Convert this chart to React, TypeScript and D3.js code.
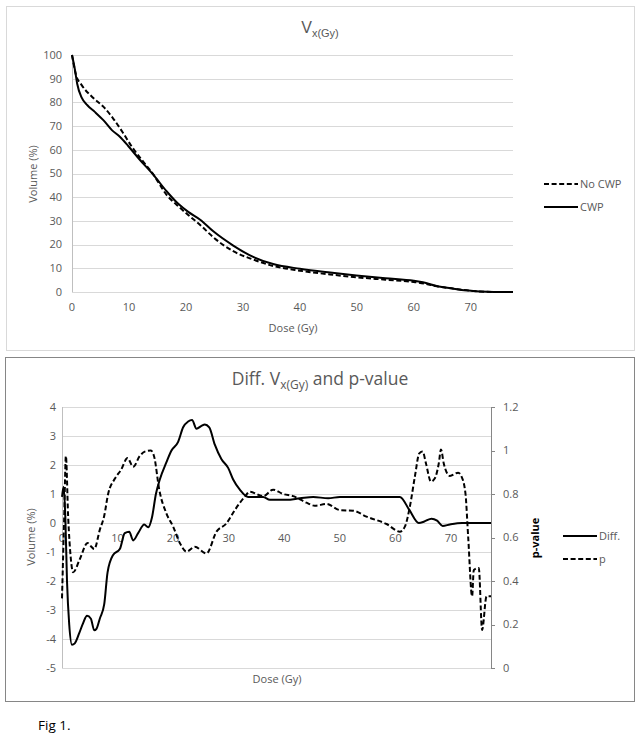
import React from 'react';
import * as d3 from 'd3';

// dose (Gy), volume (%)
const cwp: [number, number][] = [
  [0, 100], [0.5, 94], [0.9, 88], [1.7, 82], [2.7, 78.8], [4, 76], [5.5, 72.5],
  [7, 68.3], [8.4, 65.5], [9.9, 61.5], [11.9, 55.8], [14.3, 49.4], [16.6, 42.5],
  [18.6, 37.3], [20.4, 33.8], [22.5, 30.5], [24.8, 25.6], [28.3, 19.6], [31.8, 14.8],
  [35.3, 11.8], [40, 9.8], [45.3, 8.2], [49.9, 7], [55, 5.8], [60, 4.7], [61.6, 4.1],
  [64, 2.5], [67, 1.4], [69.2, 0.7], [71.6, 0.2], [74, 0], [77.4, 0],
];

const noCwp: [number, number][] = [
  [0, 100], [0.7, 91.6], [1.7, 87.3], [3.5, 82.4], [5.5, 78.2], [7.2, 73.3], [9, 67],
  [10.5, 61.3], [12, 56.5], [14.3, 49.5], [16.6, 41], [18.4, 36.7], [20.4, 32.5],
  [22.5, 28.3], [24.8, 23.1], [28.3, 17.2], [31.8, 13.7], [35.3, 11], [40, 9], [45.3, 7.4],
  [50, 6.2], [55, 5.2], [60, 4.2], [62, 3.5], [64, 2.4], [67, 1.4], [69.2, 0.7],
  [71.6, 0.2], [74, 0], [77.4, 0],
];

// dose (Gy), difference in volume (%)
const diff: [number, number][] = [
  [0, 0.9], [0.3, 1.25], [0.6, 0.2], [0.9, -2], [1.3, -3.5], [1.8, -4.2], [2.3, -4.15],
  [3.1, -3.8], [3.8, -3.45], [4.5, -3.2], [5.2, -3.3], [5.8, -3.7], [6.2, -3.65],
  [6.8, -3.3], [7.6, -2.8], [8.2, -1.7], [9.2, -1.1], [10.4, -0.9], [11.3, -0.35],
  [12.1, -0.3], [12.8, -0.6], [13.7, -0.35], [14.8, -0.05], [15.5, -0.15], [16.2, 0.2],
  [16.9, 1.0], [17.6, 1.5], [18.8, 2.1], [19.7, 2.5], [20.9, 2.8], [21.8, 3.3],
  [22.7, 3.5], [23.4, 3.55], [24.2, 3.25], [25.1, 3.35], [25.7, 3.4], [26.5, 3.3],
  [27.5, 2.7], [28.7, 2.2], [29.9, 1.9], [30.8, 1.5], [32, 1.15], [33.5, 0.9],
  [36.2, 0.9], [37.4, 0.8], [40.4, 0.8], [42.8, 0.85], [45.2, 0.9], [47.9, 0.85],
  [50, 0.9], [55, 0.9], [58, 0.9], [60.8, 0.9], [62.5, 0.45], [64.2, 0], [65.2, 0.05],
  [66.5, 0.15], [67.5, 0.08], [68.5, -0.1], [69.8, -0.05], [72, 0], [77.2, 0],
];

// dose (Gy), p-value
const pValue: [number, number][] = [
  [0, 0.32], [0.4, 0.7], [0.7, 0.975], [1.1, 0.7], [1.6, 0.5], [2.0, 0.44], [3.2, 0.5],
  [4.6, 0.575], [5.2, 0.56], [5.8, 0.547], [6.8, 0.635], [7.6, 0.7], [8.3, 0.8],
  [9.5, 0.87], [10.6, 0.91], [11.8, 0.965], [12.8, 0.925], [14.0, 0.975], [14.9, 0.995],
  [16.0, 1.0], [16.6, 0.97], [17.5, 0.82], [18.8, 0.71], [20, 0.65], [21.2, 0.575],
  [22.4, 0.535], [23.9, 0.557], [26, 0.527], [27.8, 0.627], [29.6, 0.665], [31.1, 0.726],
  [32.9, 0.788], [33.8, 0.81], [36.2, 0.79], [38, 0.82], [39.8, 0.8], [41.6, 0.79],
  [44, 0.76], [45.5, 0.746], [47.6, 0.754], [50, 0.726], [52.4, 0.723], [54.8, 0.696],
  [58.4, 0.662], [60.8, 0.627], [61.7, 0.65], [62.6, 0.742], [63.5, 0.88], [64.3, 0.987],
  [64.9, 0.995], [65.5, 0.94], [66.4, 0.857], [67.1, 0.872], [67.8, 0.94], [68.2, 1.005],
  [68.7, 0.94], [69.8, 0.883], [71.3, 0.898], [71.9, 0.88], [72.6, 0.803], [73.1, 0.6],
  [73.8, 0.33], [74.1, 0.45], [75, 0.46], [75.6, 0.175], [76.4, 0.33], [77.2, 0.33],
];

const doseTicks = [0, 10, 20, 30, 40, 50, 60, 70];
const volumeTicks = [0, 10, 20, 30, 40, 50, 60, 70, 80, 90, 100];
const diffTicks = [-5, -4, -3, -2, -1, 0, 1, 2, 3, 4];
const pTicks = [0, 0.2, 0.4, 0.6, 0.8, 1, 1.2];

const labelFont = '"Open Sans", sans-serif';
const gray = '#595959';
const grid = '#d9d9d9';
const dash = '5,2.6';
const fs = 11;

const App: React.FC = () => {
  // top chart
  const x1 = d3.scaleLinear().domain([0, 77.4]).range([72, 513]);
  const y1 = d3.scaleLinear().domain([0, 100]).range([292, 55]);
  const line1 = d3
    .line<[number, number]>()
    .x((d) => x1(d[0]))
    .y((d) => y1(d[1]))
    .curve(d3.curveMonotoneX);

  // bottom chart
  const x2 = d3.scaleLinear().domain([0, 77.2]).range([62, 491]);
  const yL = d3.scaleLinear().domain([-5, 4]).range([668, 407]);
  const yR = d3.scaleLinear().domain([0, 1.2]).range([668, 407]);
  const lineDiff = d3
    .line<[number, number]>()
    .x((d) => x2(d[0]))
    .y((d) => yL(d[1]))
    .curve(d3.curveMonotoneX);
  const lineP = d3
    .line<[number, number]>()
    .x((d) => x2(d[0]))
    .y((d) => yR(d[1]))
    .curve(d3.curveMonotoneX);

  return (
    <div style={{ position: 'absolute', left: 0, top: 0 }}>
      <svg width={641} height={739} style={{ display: 'block', background: '#fff' }}>
        {/* ---------- top chart ---------- */}
        <rect x={6.5} y={6.5} width={628} height={344} fill='#fff' stroke={grid} />
        <text x={320} y={33} textAnchor='middle' fill={gray} fontFamily='"Liberation Sans", Arial, sans-serif' fontSize={16}>
          V<tspan fontSize={11} dy={4}>x(Gy)</tspan>
        </text>
        {volumeTicks.map((t) => (
          <g key={t}>
            <line x1={72} x2={513} y1={Math.round(y1(t)) + 0.5} y2={Math.round(y1(t)) + 0.5} stroke={grid} />
            <text x={62} y={y1(t)} dy='0.35em' textAnchor='end' fill={gray} fontFamily={labelFont} fontSize={fs}>
              {t}
            </text>
          </g>
        ))}
        <line x1={72.5} x2={72.5} y1={55} y2={292} stroke='#bfbfbf' />
        {doseTicks.map((t) => (
          <text key={t} x={x1(t)} y={307} dy='0.35em' textAnchor='middle' fill={gray} fontFamily={labelFont} fontSize={fs}>
            {t}
          </text>
        ))}
        <text transform='translate(33,174) rotate(-90)' textAnchor='middle' dy='0.35em' fill={gray} fontFamily={labelFont} fontSize={fs}>
          Volume (%)
        </text>
        <text x={293} y={328} dy='0.35em' textAnchor='middle' fill={gray} fontFamily={labelFont} fontSize={fs}>
          Dose (Gy)
        </text>
        <path d={line1(noCwp) ?? ''} fill='none' stroke='#000' strokeWidth={2} strokeDasharray={dash} />
        <path d={line1(cwp) ?? ''} fill='none' stroke='#000' strokeWidth={2} />
        <g fontFamily={labelFont} fontSize={fs} fill={gray}>
          <line x1={544} x2={578} y1={184} y2={184} stroke='#000' strokeWidth={2} strokeDasharray={dash} />
          <text x={580} y={184} dy='0.35em'>No CWP</text>
          <line x1={544} x2={578} y1={207} y2={207} stroke='#000' strokeWidth={2} />
          <text x={580} y={207} dy='0.35em'>CWP</text>
        </g>

        {/* ---------- bottom chart ---------- */}
        <rect x={5.5} y={357.5} width={629} height={344} fill='#fff' stroke='#868686' />
        <text x={320} y={384.5} textAnchor='middle' fill={gray} fontFamily={labelFont} fontSize={17.5}>
          Diff. V<tspan fontSize={12} dy={4}>x(Gy)</tspan>
          <tspan dy={-4}> and p-value</tspan>
        </text>
        {diffTicks.map((t) => (
          <g key={t}>
            <line x1={62} x2={491} y1={Math.round(yL(t)) + 0.5} y2={Math.round(yL(t)) + 0.5} stroke={grid} />
            <text x={56} y={yL(t)} dy='0.35em' textAnchor='end' fill={gray} fontFamily={labelFont} fontSize={fs}>
              {t}
            </text>
          </g>
        ))}
        <line x1={62.5} x2={62.5} y1={407} y2={668} stroke='#bfbfbf' />
        <line x1={491.5} x2={491.5} y1={407} y2={668} stroke='#868686' />
        {pTicks.map((t) => (
          <g key={t}>
            <line x1={491} x2={495} y1={Math.round(yR(t)) + 0.5} y2={Math.round(yR(t)) + 0.5} stroke='#868686' />
            <text x={503} y={yR(t)} dy='0.35em' fill={gray} fontFamily={labelFont} fontSize={fs}>
              {t}
            </text>
          </g>
        ))}
        {doseTicks.map((t) => (
          <text key={t} x={x2(t)} y={yL(0) + 15} dy='0.35em' textAnchor='middle' fill={gray} fontFamily={labelFont} fontSize={fs}>
            {t}
          </text>
        ))}
        <text transform='translate(31,537) rotate(-90)' textAnchor='middle' dy='0.35em' fill={gray} fontFamily={labelFont} fontSize={fs}>
          Volume (%)
        </text>
        <text x={277} y={679} dy='0.35em' textAnchor='middle' fill={gray} fontFamily={labelFont} fontSize={fs}>
          Dose (Gy)
        </text>
        <text transform='translate(535,538) rotate(-90)' textAnchor='middle' dy='0.35em' fill='#000' fontFamily={labelFont} fontWeight='bold' fontSize={fs}>
          p-value
        </text>
        <path d={lineP(pValue) ?? ''} fill='none' stroke='#000' strokeWidth={2} strokeDasharray={dash} />
        <path d={lineDiff(diff) ?? ''} fill='none' stroke='#000' strokeWidth={2} />
        <g fontFamily={labelFont} fontSize={fs} fill={gray}>
          <line x1={563} x2={597} y1={536} y2={536} stroke='#000' strokeWidth={2} />
          <text x={599} y={536} dy='0.35em'>Diff.</text>
          <line x1={563} x2={597} y1={559} y2={559} stroke='#000' strokeWidth={2} strokeDasharray={dash} />
          <text x={599} y={559} dy='0.35em'>p</text>
        </g>

        <text x={38} y={730} fill='#000' fontFamily={labelFont} fontSize={13.5}>
          Fig 1.
        </text>
      </svg>
    </div>
  );
};

export default App;
